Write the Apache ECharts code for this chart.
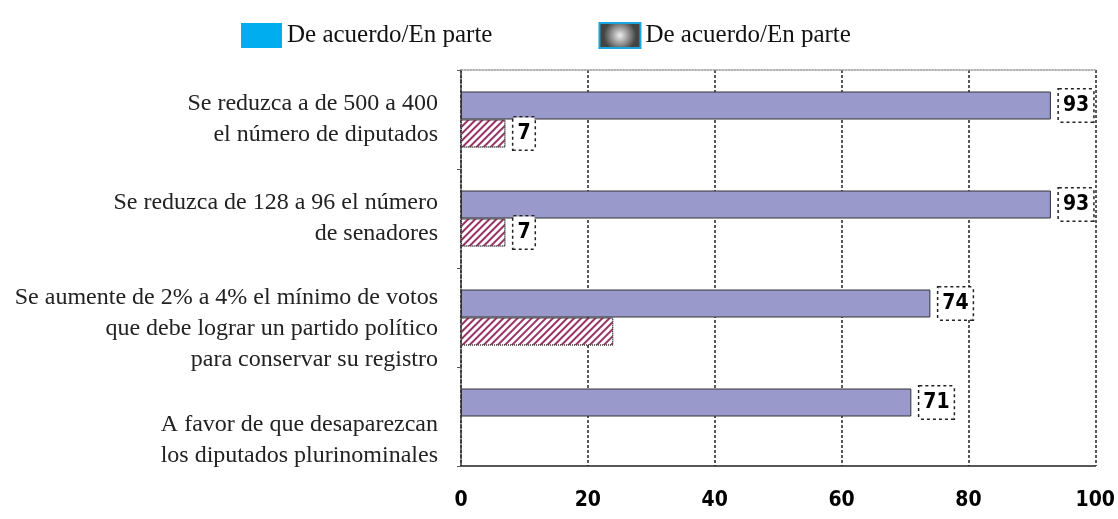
<!DOCTYPE html>
<html>
<head>
    <meta charset="UTF-8">
    <title>Reforma</title>
    <style>
        html, body {
            margin: 0;
            height: 100%;
            background-color: #FFF;
        }
    </style>
</head>
<body>
<div id="main" style="width:1118px;height:519px"></div>

<script src="https://cdn.jsdelivr.net/npm/echarts@6/dist/echarts.min.js"></script>
<script type="text/javascript">
    // categorias (de arriba hacia abajo)
    var categories = [
        'Se reduzca a de 500 a 400\nel número de diputados',
        'Se reduzca de 128 a 96 el número\nde senadores',
        'Se aumente de 2% a 4% el mínimo de votos\nque debe lograr un partido político\npara conservar su registro',
        'A favor de que desaparezcan\nlos diputados plurinominales'
    ];
    var legendLabels = ['De acuerdo/En parte', 'De acuerdo/En parte'];
    var acuerdo = [93, 93, 74, 71];
    var desacuerdo = [7, 7, 24, null];
    var sinEtiqueta = [2, 3];   // barras rayadas sin recuadro de valor
    var xTicks = [0, 20, 40, 60, 80, 100];

    var serif = "'Liberation Serif', 'DejaVu Serif', serif";
    var narrow = "'Liberation Sans Narrow', 'DejaVu Sans Condensed', sans-serif";

    // desplazamiento vertical hacia abajo de algunas etiquetas de categoria (px)
    var labelShift = [0, 0, 11, 24];

    var valueBox = {
        show: true,
        position: 'right',
        distance: 8,
        color: '#000',
        fontFamily: narrow,
        fontWeight: 'bold',
        fontSize: 21,
        backgroundColor: '#FFF',
        borderColor: '#222',
        borderWidth: 1.5,
        borderType: 'dotted',
        padding: [6, 4, 5, 4]
    };

    var pinkData = desacuerdo.map(function (v, i) {
        return {
            value: v,
            label: {show: sinEtiqueta.indexOf(i) < 0}
        };
    });

    // linea vacia de altura 2*shift antes del texto => centro baja "shift" px
    var gapRich = {};
    labelShift.forEach(function (s, i) {
        gapRich['g' + i] = {fontSize: 2, height: 2 * s, lineHeight: 2 * s};
    });

    var mCharts = echarts.init(document.getElementById('main'));

    var mOptions = {
        animation: false,
        legend: {
            left: 236,
            top: 17,
            itemWidth: 41,
            itemHeight: 25,
            itemGap: 106,
            selectedMode: false,
            textStyle: {
                fontFamily: serif,
                fontSize: 25,
                color: '#111'
            },
            formatter: function (name) {
                return name == 'acuerdo' ? legendLabels[0] : legendLabels[1];
            },
            data: [{
                name: 'acuerdo',
                icon: 'rect',
                itemStyle: {color: '#00AEEF', borderWidth: 0, decal: 'none'}
            }, {
                name: 'desacuerdo',
                icon: 'rect',
                itemStyle: {
                    color: {
                        type: 'radial', x: 0.5, y: 0.5, r: 0.6,
                        colorStops: [{offset: 0, color: '#EEE'}, {offset: 1, color: '#444'}]
                    },
                    borderColor: '#1AA7E0',
                    borderWidth: 2,
                    decal: 'none'
                }
            }]
        },

        grid: {
            left: 461,
            right: 19,
            top: 70,
            bottom: 53
        },

        xAxis: [{
            type: 'value',
            min: 0,
            max: 100,
            interval: 20,
            axisLine: {show: true, lineStyle: {color: '#222', width: 1.5}},
            axisTick: {show: false},
            splitLine: {
                show: true,
                lineStyle: {color: '#222', width: 1.5, type: [3, 2]}
            },
            axisLabel: {
                margin: 24,
                color: '#000',
                fontFamily: narrow,
                fontWeight: 'bold',
                fontSize: 21,
                formatter: function (v) {
                    return xTicks.indexOf(v) >= 0 ? String(v) : '';
                }
            }
        }, {
            type: 'value',
            position: 'top',
            min: 0,
            max: 100,
            interval: 20,
            axisLine: {show: true, lineStyle: {color: '#999', width: 1.5, type: 'dotted'}},
            axisTick: {show: false},
            axisLabel: {show: false},
            splitLine: {show: false}
        }],

        yAxis: {
            type: 'category',
            inverse: true,
            data: categories,
            axisLine: {show: true, lineStyle: {color: '#333', width: 1.5, type: 'dotted'}},
            axisTick: {show: true, length: 4, lineStyle: {color: '#555'}},
            axisLabel: {
                interval: 0,
                margin: 23,
                color: '#222',
                fontFamily: serif,
                fontSize: 24,
                lineHeight: 31,
                align: 'right',
                rich: gapRich,
                formatter: function (value, index) {
                    return labelShift[index] > 0 ? '{g' + index + '| }\n' + value : value;
                }
            }
        },

        series: [{
            name: 'acuerdo',
            type: 'bar',
            barWidth: 28,
            barGap: '0%',
            data: acuerdo,
            itemStyle: {
                color: '#9999CC',
                borderColor: '#333',
                borderWidth: 1
            },
            label: valueBox
        }, {
            name: 'desacuerdo',
            type: 'bar',
            barWidth: 28,
            barGap: '0%',
            data: pinkData,
            itemStyle: {
                color: '#FFF',
                borderColor: '#333',
                borderWidth: 1,
                borderType: 'dotted',
                decal: {
                    symbol: 'rect',
                    symbolSize: 1,
                    dashArrayX: [1, 0],
                    dashArrayY: [2, 3],
                    rotation: -Math.PI / 4,
                    color: '#993366'
                }
            },
            label: valueBox
        }]
    };

    mCharts.setOption(mOptions);
</script>
</body>
</html>
